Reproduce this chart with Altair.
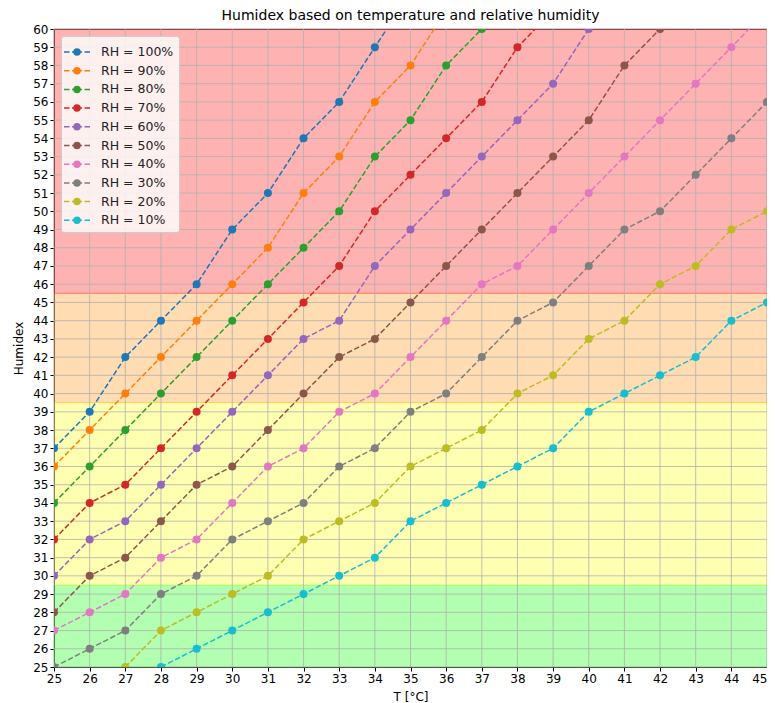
import altair as alt
import pandas as pd

# ---- data ----
rh_labels = ["RH = 100%", "RH = 90%", "RH = 80%", "RH = 70%", "RH = 60%",
             "RH = 50%", "RH = 40%", "RH = 30%", "RH = 20%", "RH = 10%"]
rh_colors = ["#1f77b4", "#ff7f0e", "#2ca02c", "#d62728", "#9467bd",
             "#8c564b", "#e377c2", "#7f7f7f", "#bcbd22", "#17becf"]
# first temperature (°C) of each series
rh_start = [25, 25, 25, 25, 25, 25, 25, 25, 27, 28]

rh100 = [37, 39, 42, 44, 46, 49, 51, 54, 56, 59, 62]
rh90 = [36, 38, 40, 42, 44, 46, 48, 51, 53, 56, 58, 61]
rh80 = [34, 36, 38, 40, 42, 44, 46, 48, 50, 53, 55, 58, 60]
rh70 = [32, 34, 35, 37, 39, 41, 43, 45, 47, 50, 52, 54, 56, 59, 61]
rh60 = [30, 32, 33, 35, 37, 39, 41, 43, 44, 47, 49, 51, 53, 55, 57, 60]
rh50 = [28, 30, 31, 33, 35, 36, 38, 40, 42, 43, 45, 47, 49, 51, 53, 55, 58, 60]
rh40 = [27, 28, 29, 31, 32, 34, 36, 37, 39, 40, 42, 44, 46, 47, 49, 51, 53, 55, 57, 59, 61]
rh30 = [25, 26, 27, 29, 30, 32, 33, 34, 36, 37, 39, 40, 42, 44, 45, 47, 49, 50, 52, 54, 56]
rh20 = [25, 27, 28, 29, 30, 32, 33, 34, 36, 37, 38, 40, 41, 43, 44, 46, 47, 49, 50]
rh10 = [25, 26, 27, 28, 29, 30, 31, 33, 34, 35, 36, 37, 39, 40, 41, 42, 44, 45]
series = [rh100, rh90, rh80, rh70, rh60, rh50, rh40, rh30, rh20, rh10]

# comfort bands (humidex limits)
band_low = [25, 29.5, 39.5, 45.5]
band_high = [29.5, 39.5, 45.5, 60]
band_colors = ["#00ff00", "#ffff00", "#ff8c00", "#ff0000"]

x_ticks = list(range(25, 46))
y_ticks = list(range(25, 61))

# ---- tables ----
rows = []
for label, start, vals in zip(rh_labels, rh_start, series):
    for i, v in enumerate(vals):
        rows.append({"T": start + i, "H": v, "RH": label})
df = pd.DataFrame(rows)
gx = pd.DataFrame({"v": x_ticks})
gy = pd.DataFrame({"v": y_ticks})

W, H = 713, 638
FONT = "DejaVu Sans"

xscale = alt.Scale(domain=[25, 45], nice=False, zero=False)
yscale = alt.Scale(domain=[25, 60], nice=False, zero=False)

common_axis = dict(grid=False, tickColor="black", domainColor="black", tickSize=4,
                   labelPadding=2, labelFontSize=12, titleFontSize=12, labelFont=FONT,
                   titleFont=FONT, titleFontWeight="normal", labelColor="black",
                   titleColor="black", labelOverlap=False, labelFlush=False,
                   labelBound=False)
xaxis = alt.Axis(values=x_ticks, title="T [°C]", titlePadding=7,
                 labelAlign=alt.expr("datum.value >= 45 ? 'right' : 'center'"),
                 **common_axis)
yaxis = alt.Axis(values=y_ticks, title="Humidex", titlePadding=7, **common_axis)

band_layers = []
for lo, hi, c in zip(band_low, band_high, band_colors):
    band_layers.append(
        alt.Chart(pd.DataFrame({"lo": [lo], "hi": [hi]})).mark_rect(
            fill=c, stroke=c, fillOpacity=0.3, strokeOpacity=0.3, strokeWidth=1
        ).encode(
            x=alt.value(0), x2=alt.value(W),
            y=alt.Y("lo:Q", scale=yscale, axis=yaxis), y2="hi:Q",
        )
    )

grid_x = alt.Chart(gx).mark_rule(color="#b0b0b0", strokeWidth=0.8).encode(
    x=alt.X("v:Q", scale=xscale, axis=xaxis))
grid_y = alt.Chart(gy).mark_rule(color="#b0b0b0", strokeWidth=0.8).encode(
    y=alt.Y("v:Q", scale=yscale, axis=yaxis))

cscale = alt.Scale(domain=rh_labels, range=rh_colors)
legend_path = ("M-1.3,0H-0.75M-0.5,0H0.5M0.75,0H1.3"
               "M0.3,0A0.3,0.3,0,1,1,-0.3,0A0.3,0.3,0,1,1,0.3,0Z")
leg = alt.Legend(title=None, orient="top-left", offset=7, symbolType=legend_path,
                 symbolSize=400, symbolStrokeWidth=1.5, labelFontSize=12.5,
                 labelFont=FONT, labelColor="#222222", fillColor="rgba(255,255,255,0.8)",
                 strokeColor="#cccccc", cornerRadius=3, padding=5, rowPadding=0.7,
                 labelOffset=13, symbolOpacity=1)

lines = alt.Chart(df).mark_line(strokeDash=[5.5, 2.4], strokeWidth=1.5, clip=True).encode(
    x=alt.X("T:Q", scale=xscale, axis=xaxis),
    y=alt.Y("H:Q", scale=yscale, axis=yaxis),
    stroke=alt.Stroke("RH:N", scale=cscale, sort=rh_labels, legend=leg),
    detail="RH:N",
)
points = alt.Chart(df).mark_point(filled=True, size=64, opacity=1, clip=True).encode(
    x=alt.X("T:Q", scale=xscale, axis=xaxis),
    y=alt.Y("H:Q", scale=yscale, axis=yaxis),
    fill=alt.Fill("RH:N", scale=cscale, sort=rh_labels, legend=leg),
    stroke=alt.Stroke("RH:N", scale=cscale, sort=rh_labels, legend=leg),
    strokeWidth=alt.value(0),
)

chart = alt.layer(*band_layers, grid_x, grid_y, lines, points).properties(
    width=W, height=H,
    title=alt.TitleParams("Humidex based on temperature and relative humidity",
                          fontSize=14, font=FONT, fontWeight="normal", offset=0,
                          anchor="middle", color="black"),
    autosize=alt.AutoSizeParams(type="none"),
    padding={"left": 46, "top": 21, "right": 0, "bottom": 36},
).configure_view(stroke="black", strokeWidth=1).configure_axis(
    domainWidth=1, tickWidth=1, labelOverlap=False
)

chart.save("out.html", embed_options={"renderer": "svg", "actions": False})
